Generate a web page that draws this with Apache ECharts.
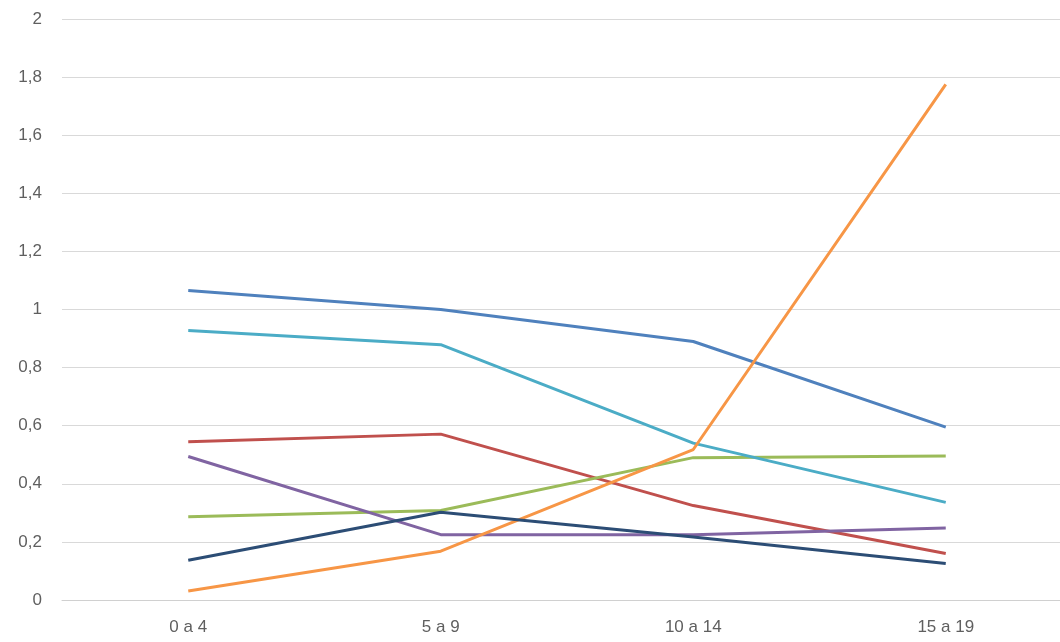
<!DOCTYPE html>
<html>
<head>
<meta charset="utf-8">
<script src="https://cdn.jsdelivr.net/npm/echarts@6/dist/echarts.min.js"></script>
<style>
  html, body { margin: 0; padding: 0; background: #ffffff; overflow: hidden; }
  /* plot area runs slightly past the right edge of the window */
  #chart { width: 1072px; height: 642px; }
</style>
</head>
<body>
<div id="chart"></div>
<script>
// Age groups on the category axis
const categories = ['0 a 4', '5 a 9', '10 a 14', '15 a 19'];

// One line per series, values per age group
const serieAzul    = [1.065, 1.0, 0.89, 0.595];
const serieRoja    = [0.545, 0.571, 0.325, 0.16];
const serieVerde   = [0.287, 0.308, 0.49, 0.496];
const serieMorada  = [0.494, 0.225, 0.225, 0.248];
const serieCian    = [0.928, 0.879, 0.54, 0.336];
const serieNaranja = [0.031, 0.168, 0.518, 1.775];
const serieMarino  = [0.137, 0.302, 0.217, 0.126];

// Y axis range and step
const yMin = 0;
const yMax = 2;
const yStep = 0.2;

const lines = [
  { data: serieAzul,    color: '#4f81bd' },
  { data: serieRoja,    color: '#c0504d' },
  { data: serieVerde,   color: '#9bbb59' },
  { data: serieMorada,  color: '#8064a2' },
  { data: serieCian,    color: '#4bacc6' },
  { data: serieNaranja, color: '#f79646' },
  { data: serieMarino,  color: '#2c4d75' }
];

const chart = echarts.init(document.getElementById('chart'), null, { renderer: 'canvas' });

chart.setOption({
  animation: false,
  backgroundColor: '#ffffff',
  grid: { left: 62, right: 0, top: 19, bottom: 42 },
  xAxis: {
    type: 'category',
    data: categories,
    boundaryGap: true,
    axisLine: { show: true, lineStyle: { color: '#d0d0d0', width: 1 } },
    axisTick: { show: false },
    axisLabel: {
      margin: 19,
      color: '#5f5f5f',
      fontFamily: 'Liberation Sans, Arial, sans-serif',
      fontSize: 17
    },
    splitLine: { show: false }
  },
  yAxis: {
    type: 'value',
    min: yMin,
    max: yMax,
    interval: yStep,
    axisLine: { show: false },
    axisTick: { show: false },
    axisLabel: {
      margin: 20,
      color: '#5f5f5f',
      fontFamily: 'Liberation Sans, Arial, sans-serif',
      fontSize: 17,
      formatter: v => String(Math.round(v * 10) / 10).replace('.', ',')
    },
    splitLine: { show: true, lineStyle: { color: '#d9d9d9', width: 1 } }
  },
  series: lines.map(l => ({
    type: 'line',
    data: l.data,
    symbol: 'none',
    smooth: false,
    lineStyle: { color: l.color, width: 3 },
    itemStyle: { color: l.color }
  }))
});
</script>
</body>
</html>
